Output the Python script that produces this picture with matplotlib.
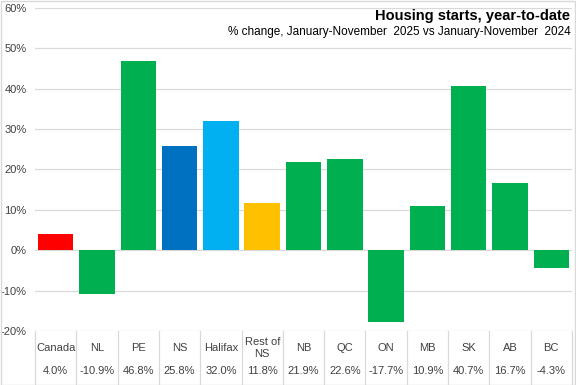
import numpy as np
import matplotlib.pyplot as plt
from matplotlib.patches import Rectangle
import matplotlib.transforms as mtransforms

plt.rcParams['font.family'] = ['Liberation Sans', 'DejaVu Sans']

# data
categories = ["Canada", "NL", "PE", "NS", "Halifax", "Rest of\nNS", "NB", "QC",
              "ON", "MB", "SK", "AB", "BC"]
values = [4.0, -10.9, 46.8, 25.8, 32.0, 11.8, 21.9, 22.6, -17.7, 10.9, 40.7, 16.7, -4.3]
colors = ["#FF0000", "#00B050", "#00B050", "#0070C0", "#00B0F0", "#FFC000", "#00B050",
          "#00B050", "#00B050", "#00B050", "#00B050", "#00B050", "#00B050"]
yticks = [-20, -10, 0, 10, 20, 30, 40, 50, 60]

W, H = 576, 385
fig = plt.figure(figsize=(W / 100, H / 100), dpi=100)
ax = fig.add_axes([35 / W, 1 - 331 / H, (572 - 35) / W, (331 - 8) / H])

x = np.arange(len(categories))
ax.bar(x, values, width=0.86, color=colors, zorder=3)

ax.set_xlim(-0.5, len(categories) - 0.5)
ax.set_ylim(-20, 60)
ax.set_yticks(yticks)
ax.set_yticklabels([f"{v}%" for v in yticks], fontsize=8, color="#404040")
ax.set_xticks([])
ax.tick_params(axis='y', length=0, pad=6)
ax.grid(axis='y', color="#D9D9D9", linewidth=0.9, zorder=0)
for s in ax.spines.values():
    s.set_visible(False)

# title
ax.text(0.997, 0.996, "Housing starts, year-to-date", transform=ax.transAxes,
        ha='right', va='top', fontsize=10.5, fontweight='bold', color="#000000")
ax.text(0.997, 0.945, "% change, January-November  2025 vs January-November  2024",
        transform=ax.transAxes, ha='right', va='top', fontsize=8.5, color="#000000")

# data table below the axes
trans = mtransforms.blended_transform_factory(ax.transData, fig.transFigure)
y_top = 1 - 331 / H
y_bot = 1 - 384 / H
for i in range(len(categories) + 1):
    ax.plot([i - 0.5, i - 0.5], [y_top, y_bot], transform=trans, color="#D9D9D9",
            linewidth=0.9, clip_on=False)
for i, (c, v) in enumerate(zip(categories, values)):
    ax.text(i, 1 - 348 / H, c, transform=trans, ha='center', va='center',
            fontsize=8, color="#404040", linespacing=1.3)
    ax.text(i, 1 - 371 / H, f"{v:.1f}%", transform=trans, ha='center', va='center',
            fontsize=8, color="#404040")

# chart border
fig.patches.append(Rectangle((0.5 / W, 0.5 / H), 1 - 1.5 / W, 1 - 1.5 / H,
                             transform=fig.transFigure, fill=False,
                             edgecolor="#D9D9D9", linewidth=1))

fig.savefig("out.png", dpi=100)
